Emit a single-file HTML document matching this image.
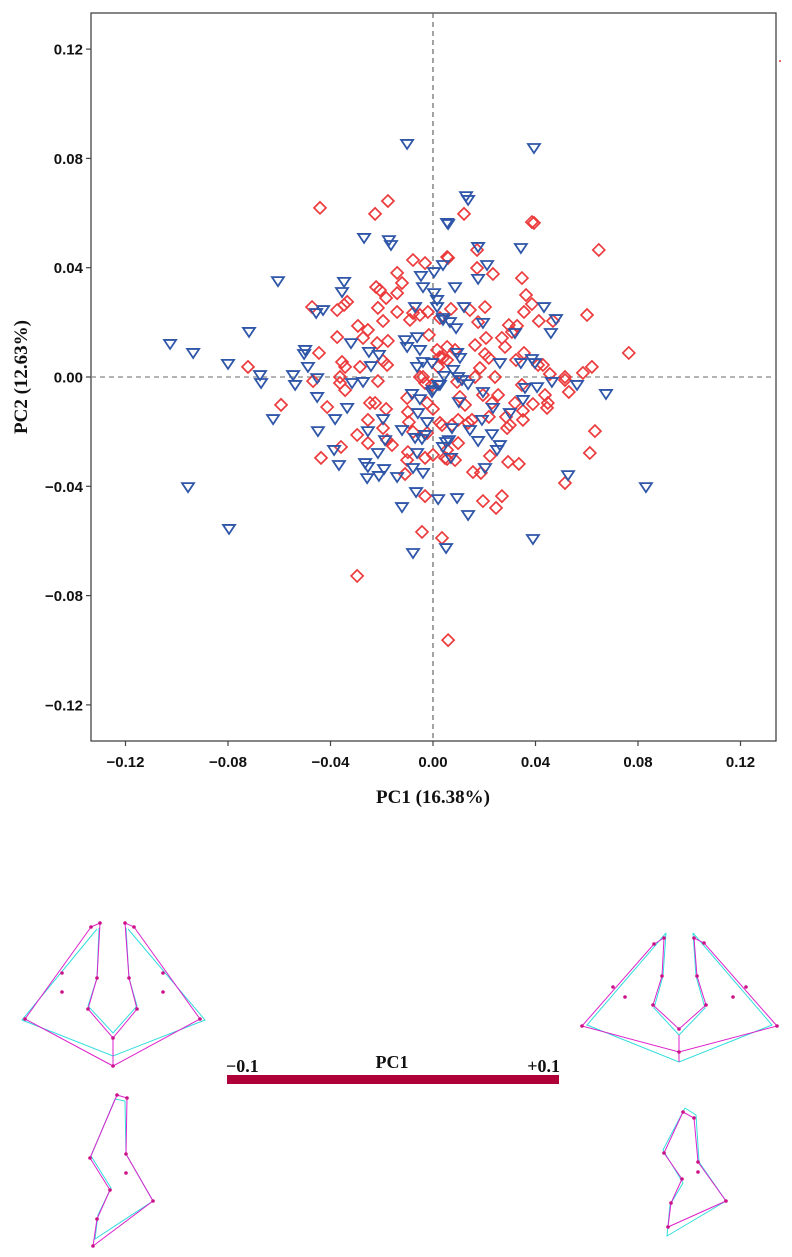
<!DOCTYPE html>
<html><head><meta charset="utf-8">
<style>
html,body{margin:0;padding:0;background:#fff;}
svg{display:block;}
.tick{font-family:"Liberation Sans",sans-serif;font-weight:bold;font-size:15px;fill:#111;}
.ttl{font-family:"Liberation Serif",serif;font-weight:bold;font-size:19px;fill:#111;}
</style></head>
<body>
<svg id="chart" width="792" height="1257" viewBox="0 0 792 1257" xmlns="http://www.w3.org/2000/svg">
  <rect x="91" y="13" width="685" height="728" fill="none" stroke="#444" stroke-width="1.3"/>
  <g id="grid"></g>
  <g id="xticks"></g>
  <g id="yticks"></g>
  <g id="pts"></g>
  <text class="ttl" x="433" y="803" text-anchor="middle">PC1 (16.38%)</text>
  <text class="ttl" transform="translate(27,377) rotate(-90)" text-anchor="middle">PC2 (12.63%)</text>
  <rect x="779" y="60" width="2" height="2" fill="#e66"/>

  <!-- lower section: shape deformation grids -->
  <g fill="none" stroke-width="1">
    <polyline stroke="#33dddd" points="97,929 22,1020 113,1056 205,1020 128,929"/>
    <polyline stroke="#33dddd" points="99,928 97,978 88,1006 113,1033 137,1006 129,978 126,928"/>
    <polyline stroke="#dd22cc" points="91,927 100,923 97,978 88,1009 113,1038 137,1009 129,978 125,923 134,927 200,1019 113,1066 25,1019 91,927"/>
    <line stroke="#dd22cc" x1="113" y1="1038" x2="113" y2="1066"/>
    <g fill="#cc1188" stroke="none">
      <circle cx="91" cy="927" r="1.8"/><circle cx="100" cy="923" r="1.8"/><circle cx="125" cy="923" r="1.8"/><circle cx="134" cy="927" r="1.8"/>
      <circle cx="62" cy="973" r="1.8"/><circle cx="163" cy="973" r="1.8"/><circle cx="62" cy="992" r="1.8"/><circle cx="163" cy="992" r="1.8"/>
      <circle cx="97" cy="978" r="1.8"/><circle cx="129" cy="978" r="1.8"/><circle cx="88" cy="1009" r="1.8"/><circle cx="137" cy="1009" r="1.8"/>
      <circle cx="113" cy="1038" r="1.8"/><circle cx="113" cy="1066" r="1.8"/><circle cx="25" cy="1019" r="1.8"/><circle cx="200" cy="1019" r="1.8"/>
    </g>
  </g>
  <g fill="none" stroke-width="1">
    <polyline stroke="#33dddd" points="115,1099 125,1101 126,1154 153,1201 95,1239 98,1215 111,1188 91,1156 115,1099"/>
    <polyline stroke="#dd22cc" points="117,1095 127,1098 126,1154 153,1201 93,1246 97,1219 110,1190 90,1158 117,1095"/>
    <g fill="#cc1188" stroke="none">
      <circle cx="117" cy="1095" r="1.8"/><circle cx="127" cy="1098" r="1.8"/><circle cx="126" cy="1154" r="1.8"/><circle cx="153" cy="1201" r="1.8"/>
      <circle cx="93" cy="1246" r="1.8"/><circle cx="97" cy="1219" r="1.8"/><circle cx="110" cy="1190" r="1.8"/><circle cx="90" cy="1158" r="1.8"/><circle cx="126" cy="1173" r="1.8"/>
    </g>
  </g>
  <g fill="none" stroke-width="1">
    <polyline stroke="#33dddd" points="666,933 587,1025 679,1062 772,1025 693,933"/>
    <polyline stroke="#33dddd" points="666,933 663,976 654,1008 679,1035 705,1008 696,976 693,933"/>
    <polyline stroke="#dd22cc" points="654,944 664,938 662,976 653,1005 679,1029 706,1005 697,976 694,938 704,943 777,1026 679,1052 582,1026 654,944"/>
    <line stroke="#dd22cc" x1="679" y1="1035" x2="679" y2="1062"/>
    <g fill="#cc1188" stroke="none">
      <circle cx="654" cy="944" r="1.8"/><circle cx="664" cy="938" r="1.8"/><circle cx="694" cy="938" r="1.8"/><circle cx="704" cy="943" r="1.8"/>
      <circle cx="613" cy="987" r="1.8"/><circle cx="746" cy="987" r="1.8"/><circle cx="625" cy="997" r="1.8"/><circle cx="733" cy="997" r="1.8"/>
      <circle cx="662" cy="976" r="1.8"/><circle cx="697" cy="976" r="1.8"/><circle cx="653" cy="1005" r="1.8"/><circle cx="706" cy="1005" r="1.8"/>
      <circle cx="679" cy="1029" r="1.8"/><circle cx="679" cy="1052" r="1.8"/><circle cx="582" cy="1026" r="1.8"/><circle cx="777" cy="1026" r="1.8"/>
    </g>
  </g>
  <g fill="none" stroke-width="1">
    <polyline stroke="#33dddd" points="685,1108 696,1115 699,1162 726,1201 667,1236 670,1205 683,1183 663,1150 685,1108"/>
    <polyline stroke="#dd22cc" points="683,1112 694,1118 698,1162 726,1201 668,1227 671,1203 682,1179 664,1153 683,1112"/>
    <g fill="#cc1188" stroke="none">
      <circle cx="683" cy="1112" r="1.8"/><circle cx="694" cy="1118" r="1.8"/><circle cx="698" cy="1162" r="1.8"/><circle cx="726" cy="1201" r="1.8"/>
      <circle cx="668" cy="1227" r="1.8"/><circle cx="671" cy="1203" r="1.8"/><circle cx="682" cy="1179" r="1.8"/><circle cx="664" cy="1153" r="1.8"/><circle cx="698" cy="1172" r="1.8"/>
    </g>
  </g>
  <rect x="227" y="1075" width="332" height="9" fill="#b0003a"/>
  <text class="ttl" x="392" y="1068" text-anchor="middle" style="font-size:18px">PC1</text>
  <text class="ttl" x="226" y="1072" style="font-size:18px">−0.1</text>
  <text class="ttl" x="560" y="1072" text-anchor="end" style="font-size:18px">+0.1</text>
</svg>
<script>
const xTickVals = [-0.12,-0.08,-0.04,0,0.04,0.08,0.12];
const yTickVals = [0.12,0.08,0.04,0,-0.04,-0.08,-0.12];
const tickLabels = ["−0.12","−0.08","−0.04","0.00","0.04","0.08","0.12"];
const yTickLabels = ["0.12","0.08","0.04","0.00","−0.04","−0.08","−0.12"];
const group1X = [-0.0101,0.0055,-0.0269,-0.0172,-0.0164,-0.0605,-0.0347,-0.0355,-0.0047,0.0004,0.0039,-0.0039,0.0004,0.0016,-0.0456,-0.0429,-0.0070,0.0039,-0.0718,-0.1026,-0.0936,-0.0800,-0.0499,-0.0503,-0.0488,-0.0320,-0.0250,-0.0211,-0.0242,-0.0109,-0.0062,-0.0101,-0.0051,-0.0039,-0.0004,-0.0062,-0.0675,-0.0546,
0.0394,0.0129,0.0137,0.0059,0.0176,0.0343,0.0211,0.0176,0.0086,0.0016,0.0121,0.0433,0.0480,0.0039,0.0066,0.0090,0.0195,0.0460,0.0320,0.0094,0.0105,0.0261,0.0343,0.0386,0.0398,0.0078,0.0043,
-0.0671,-0.0538,-0.0452,-0.0624,-0.0335,-0.0382,-0.0449,-0.0386,-0.0367,-0.0265,-0.0254,-0.0257,-0.0211,-0.0191,-0.0215,-0.0254,-0.0195,-0.0121,-0.0140,-0.0082,-0.0051,-0.0059,-0.0023,-0.0070,-0.0043,-0.0062,-0.0078,-0.0039,-0.0066,0.0020,-0.0121,-0.0956,-0.0796,-0.0078,0.0051,0.0027,0.0000,-0.0316,-0.0273,-0.0452,0.0051,-0.0187,
0.0675,0.0562,0.0464,0.0406,0.0359,0.0351,0.0300,0.0234,0.0195,0.0137,0.0098,0.0113,0.0020,-0.0004,0.0101,0.0191,0.0144,0.0176,0.0230,0.0261,0.0250,0.0062,0.0039,0.0070,-0.0031,0.0203,0.0094,0.0137,0.0527,0.0831,0.0390,0.0074];
const group1Y = [0.0853,0.0564,0.0509,0.0501,0.0483,0.0351,0.0348,0.0311,0.0370,0.0384,0.0410,0.0329,0.0307,0.0282,0.0234,0.0245,0.0256,0.0216,0.0165,0.0121,0.0088,0.0048,0.0099,0.0084,0.0037,0.0124,0.0092,0.0081,0.0040,0.0135,0.0146,0.0110,0.0099,0.0055,0.0051,0.0037,0.0007,0.0007,
0.0838,0.0662,0.0648,0.0560,0.0476,0.0472,0.0410,0.0359,0.0329,0.0256,0.0256,0.0256,0.0212,0.0209,0.0201,0.0179,0.0198,0.0161,0.0161,0.0088,0.0070,0.0051,0.0051,0.0066,0.0051,0.0026,0.0004,
-0.0022,-0.0029,-0.0073,-0.0154,-0.0113,-0.0154,-0.0198,-0.0267,-0.0322,-0.0315,-0.0329,-0.0370,-0.0362,-0.0337,-0.0278,-0.0198,-0.0154,-0.0194,-0.0366,-0.0062,-0.0081,-0.0132,-0.0165,-0.0223,-0.0227,-0.0278,-0.0333,-0.0351,-0.0421,-0.0447,-0.0476,-0.0403,-0.0556,-0.0644,-0.0626,-0.0029,-0.0048,-0.0022,-0.0018,-0.0004,-0.0238,-0.0231,
-0.0062,-0.0029,-0.0018,-0.0037,-0.0040,-0.0084,-0.0132,-0.0113,-0.0055,-0.0026,0.0000,-0.0011,-0.0029,-0.0055,-0.0092,-0.0157,-0.0194,-0.0234,-0.0209,-0.0249,-0.0267,-0.0231,-0.0256,-0.0296,-0.0212,-0.0333,-0.0443,-0.0505,-0.0359,-0.0403,-0.0593,-0.0187];
const group2X = [-0.0441,-0.0226,-0.0176,-0.0078,-0.0031,0.0055,-0.0140,-0.0121,-0.0222,-0.0207,-0.0183,-0.0140,-0.0472,-0.0374,-0.0347,-0.0335,-0.0215,-0.0140,-0.0078,-0.0020,-0.0090,-0.0051,-0.0195,-0.0293,-0.0254,-0.0374,-0.0273,-0.0176,-0.0016,-0.0218,-0.0445,-0.0355,-0.0343,-0.0285,-0.0195,-0.0179,-0.0722,0.0016,0.0027,0.0055,0.0020,-0.0039,-0.0363,
0.0121,0.0386,0.0394,0.0647,0.0059,0.0172,0.0172,0.0234,0.0347,0.0363,0.0386,0.0355,0.0601,0.0203,0.0144,0.0070,0.0413,0.0468,0.0296,0.0328,0.0176,0.0027,0.0207,0.0269,0.0164,0.0281,0.0308,0.0055,0.0039,0.0086,0.0203,0.0218,0.0324,0.0355,0.0410,0.0429,0.0764,0.0620,0.0585,0.0183,0.0456,0.0515,0.0242,
-0.0593,-0.0413,-0.0468,-0.0363,-0.0343,-0.0215,-0.0246,-0.0226,-0.0183,-0.0254,-0.0296,-0.0254,-0.0359,-0.0437,-0.0195,-0.0179,-0.0160,-0.0098,-0.0101,-0.0109,-0.0031,0.0000,-0.0101,-0.0098,-0.0094,-0.0023,0.0000,-0.0078,-0.0023,0.0027,0.0047,-0.0031,-0.0043,0.0035,-0.0296,-0.0051,-0.0031,-0.0004,0.0059,
0.0632,0.0612,0.0515,0.0530,0.0515,0.0445,0.0448,0.0437,0.0390,0.0347,0.0320,0.0351,0.0351,0.0289,0.0300,0.0285,0.0254,0.0230,0.0218,0.0195,0.0164,0.0105,0.0125,0.0094,0.0152,0.0137,0.0098,0.0035,0.0074,0.0098,0.0055,0.0055,0.0086,0.0222,0.0293,0.0335,0.0156,0.0187,0.0269,0.0195,0.0246];
const group2Y = [0.0619,0.0597,0.0644,0.0428,0.0417,0.0439,0.0381,0.0344,0.0329,0.0318,0.0289,0.0307,0.0256,0.0245,0.0264,0.0275,0.0253,0.0238,0.0234,0.0238,0.0209,0.0227,0.0205,0.0187,0.0172,0.0146,0.0143,0.0132,0.0154,0.0124,0.0088,0.0055,0.0037,0.0037,0.0059,0.0044,0.0037,0.0099,0.0073,0.0062,0.0037,0.0000,0.0000,
0.0597,0.0567,0.0564,0.0465,0.0436,0.0465,0.0399,0.0377,0.0362,0.0300,0.0267,0.0238,0.0227,0.0256,0.0245,0.0249,0.0205,0.0205,0.0190,0.0187,0.0201,0.0216,0.0143,0.0143,0.0117,0.0110,0.0165,0.0110,0.0070,0.0099,0.0084,0.0070,0.0062,0.0088,0.0044,0.0044,0.0088,0.0037,0.0015,0.0033,0.0011,0.0000,0.0000,
-0.0102,-0.0110,-0.0015,-0.0022,-0.0048,-0.0015,-0.0095,-0.0095,-0.0117,-0.0157,-0.0212,-0.0242,-0.0256,-0.0296,-0.0187,-0.0231,-0.0249,-0.0275,-0.0304,-0.0355,-0.0296,-0.0285,-0.0077,-0.0128,-0.0165,-0.0095,-0.0117,-0.0201,-0.0205,-0.0168,-0.0296,-0.0436,-0.0567,-0.0589,-0.0728,0.0000,-0.0022,-0.0029,-0.0963,
-0.0198,-0.0278,-0.0388,-0.0055,-0.0011,-0.0113,-0.0095,-0.0066,-0.0099,-0.0029,-0.0095,-0.0124,-0.0157,-0.0187,-0.0176,-0.0146,-0.0066,-0.0095,-0.0146,-0.0066,0.0000,-0.0073,-0.0102,-0.0018,-0.0157,-0.0168,-0.0157,-0.0176,-0.0176,-0.0242,-0.0267,-0.0300,-0.0304,-0.0289,-0.0311,-0.0318,-0.0348,-0.0351,-0.0436,-0.0454,-0.0479];

const NS = "http://www.w3.org/2000/svg";
const X0 = 433, XS = 102.5/0.04, Y0 = 377, YS = 109.3/0.04;
function sx(v){ return X0 + v*XS; }
function sy(v){ return Y0 - v*YS; }
function mk(tag, attrs, parent){ const e=document.createElementNS(NS,tag); for(const k in attrs) e.setAttribute(k,attrs[k]); parent.appendChild(e); return e; }

const grid = document.getElementById('grid');
const vline = mk('line',{x1:sx(0),x2:sx(0),y1:13,y2:741,stroke:'#666','stroke-width':1.2,'stroke-dasharray':'5,4'},grid);


const hline = mk('line',{x1:91,x2:776,y1:sy(0),y2:sy(0),stroke:'#888','stroke-width':1.2,'stroke-dasharray':'5,4'},grid);



const xg = document.getElementById('xticks');
xTickVals.forEach((v,i)=>{
  const t = mk('line',{x1:sx(v),x2:sx(v),y1:741,y2:746,stroke:'#444','stroke-width':1.2},xg);
  
  
  const l = mk('text',{x:sx(v),y:767,'text-anchor':'middle',class:'tick'},xg);
  l.textContent = tickLabels[i];
  
  
});
const yg = document.getElementById('yticks');
yTickVals.forEach((v,i)=>{
  const t = mk('line',{x1:86,x2:91,y1:sy(v),y2:sy(v),stroke:'#444','stroke-width':1.2},yg);
  
  
  const l = mk('text',{x:83,y:sy(v)+5.5,'text-anchor':'end',class:'tick'},yg);
  l.textContent = yTickLabels[i];
  
  
});

const pg = document.getElementById('pts');
group2X.forEach((v,i)=>{
  const cx=sx(v), cy=sy(group2Y[i]), r=6;
  const d = mk('polygon',{points:`${cx},${cy-r} ${cx+r},${cy} ${cx},${cy+r} ${cx-r},${cy}`,fill:'none',stroke:'#ec3a3c','stroke-width':1.7},pg);
  
  
});
group1X.forEach((v,i)=>{
  const cx=sx(v), cy=sy(group1Y[i]);
  const t = mk('polygon',{points:`${cx-6},${cy-4} ${cx+6},${cy-4} ${cx},${cy+5}`,fill:'none',stroke:'#2f56a8','stroke-width':1.8},pg);
  
  
});
</script>
</body></html>
